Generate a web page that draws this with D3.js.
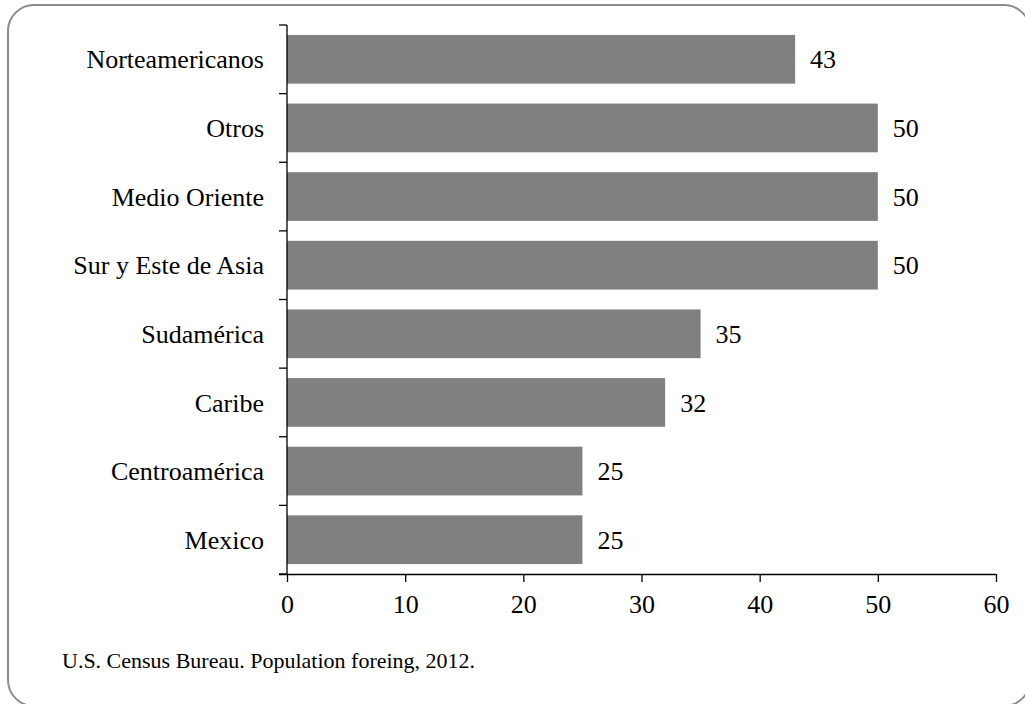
<!DOCTYPE html>
<html><head><meta charset="utf-8">
<script src="https://cdn.jsdelivr.net/npm/d3@7"></script>
<style>body{margin:0;background:#fff;} svg{display:block;}</style>
</head><body>
<script>
const categories = ["Norteamericanos","Otros","Medio Oriente","Sur y Este de Asia","Sudamérica","Caribe","Centroamérica","Mexico"];
const values = [43,50,50,50,35,32,25,25];
const xTicks = [0,10,20,30,40,50,60];
const source = "U.S. Census Bureau. Population foreing, 2012.";

const W=1025,H=704;
const svg=d3.select("body").append("svg").attr("width",W).attr("height",H);
const font="'Liberation Serif','Times New Roman',serif";
const fs=26;

svg.append("rect").attr("x",8).attr("y",5).attr("width",1022).attr("height",701)
  .attr("rx",26).attr("ry",26).attr("fill","none").attr("stroke","#8c8c8c").attr("stroke-width",2);

const x0=287,x1=996,yTop=25,yBot=574;
const x=d3.scaleLinear().domain([0,60]).range([x0,x1]);
const y=d3.scaleBand().domain(categories).range([yTop,yBot]).paddingInner(0.29).paddingOuter(0.145);

svg.selectAll("rect.bar").data(categories).join("rect").attr("class","bar")
  .attr("x",x(0)).attr("y",d=>y(d)).attr("height",y.bandwidth())
  .attr("width",(d,i)=>x(values[i])-x(0)).attr("fill","#808080");

svg.selectAll("text.val").data(categories).join("text").attr("class","val")
  .attr("x",(d,i)=>x(values[i])+15).attr("y",d=>y(d)+y.bandwidth()/2)
  .attr("dy","0.35em").attr("font-family",font).attr("font-size",fs).attr("fill","#000")
  .text((d,i)=>values[i]);

svg.selectAll("text.cat").data(categories).join("text").attr("class","cat")
  .attr("x",264).attr("y",d=>y(d)+y.bandwidth()/2).attr("dy","0.35em")
  .attr("text-anchor","end").attr("font-family",font).attr("font-size",fs).attr("fill","#000")
  .text(d=>d);

// y axis
const g=svg.append("g");
g.append("line").attr("x1",x0).attr("x2",x0).attr("y1",yTop).attr("y2",yBot).attr("stroke","#000").attr("stroke-width",1.3);
const step=(yBot-yTop)/categories.length;
const bounds=d3.range(categories.length+1).map(i=>yTop+i*step);
g.selectAll("line.yt").data(bounds).join("line").attr("class","yt")
  .attr("x1",x0-8).attr("x2",x0).attr("y1",d=>d).attr("y2",d=>d).attr("stroke","#000").attr("stroke-width",1.3);

// x axis
const xa=svg.append("g").attr("transform",`translate(0,${yBot})`)
  .call(d3.axisBottom(x).tickValues(xTicks).tickSize(8).tickSizeOuter(0).tickPadding(13));
xa.select(".domain").attr("d",`M${x0-8},0.5H${x1}`).attr("stroke","#000").attr("stroke-width",1.3);
xa.selectAll(".tick line").attr("stroke","#000").attr("stroke-width",1.3);
xa.selectAll(".tick text").attr("font-family",font).attr("font-size",fs).attr("fill","#000");

svg.append("text").attr("x",62).attr("y",668).attr("font-family",font).attr("font-size",22).attr("fill","#000").text(source);
</script>
</body></html>
